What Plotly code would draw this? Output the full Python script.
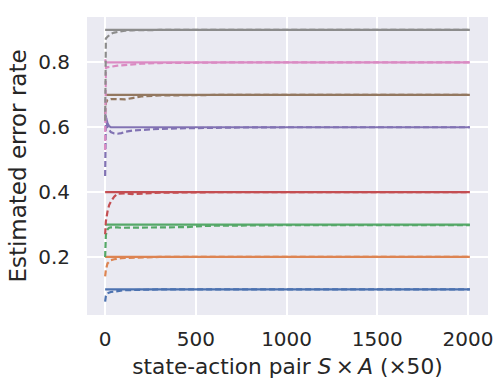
import plotly.graph_objects as go

# x positions (state-action pairs, x50)
x_pts = [0, 4, 13, 22, 31, 50, 68, 90, 110, 150, 200, 300, 450, 550, 700, 1000, 1500, 2010]

colors = ["#4C72B0", "#DD8452", "#55A868", "#C44E52", "#8172B3", "#937860", "#DA8BC3", "#8C8C8C"]

# solid-line values (fast converging estimate)
solid_blue   = [0.1] * 18
solid_orange = [0.2] * 18
solid_green  = [0.3] * 18
solid_red    = [0.4] * 18
solid_purple = [0.64, 0.63, 0.612, 0.603, 0.6, 0.6, 0.6, 0.6, 0.6, 0.6, 0.6, 0.6, 0.6, 0.6, 0.6, 0.6, 0.6, 0.6]
solid_brown  = [0.7] * 18
solid_pink   = [0.81, 0.8, 0.8, 0.8, 0.8, 0.8, 0.8, 0.8, 0.8, 0.8, 0.8, 0.8, 0.8, 0.8, 0.8, 0.8, 0.8, 0.8]
solid_gray   = [0.9] * 18

# dashed-line values (slower estimate)
dash_blue   = [0.062, 0.08, 0.088, 0.09, 0.092, 0.093, 0.095, 0.097, 0.098, 0.098, 0.099, 0.1, 0.1, 0.1, 0.1, 0.1, 0.1, 0.1]
dash_orange = [0.14, 0.16, 0.18, 0.186, 0.19, 0.193, 0.195, 0.196, 0.197, 0.198, 0.199, 0.2, 0.2, 0.2, 0.2, 0.2, 0.2, 0.2]
dash_green  = [0.2, 0.268, 0.285, 0.29, 0.291, 0.292, 0.291, 0.29, 0.29, 0.29, 0.29, 0.291, 0.292, 0.296, 0.297, 0.298, 0.298, 0.298]
dash_red    = [0.27, 0.31, 0.34, 0.36, 0.37, 0.386, 0.395, 0.396, 0.396, 0.394, 0.396, 0.398, 0.399, 0.4, 0.4, 0.4, 0.399, 0.4]
dash_purple = [0.45, 0.63, 0.6, 0.59, 0.585, 0.581, 0.58, 0.582, 0.586, 0.59, 0.592, 0.595, 0.597, 0.598, 0.599, 0.6, 0.6, 0.6]
dash_brown  = [0.64, 0.675, 0.684, 0.686, 0.687, 0.687, 0.686, 0.685, 0.686, 0.69, 0.695, 0.698, 0.699, 0.7, 0.7, 0.7, 0.7, 0.7]
dash_pink   = [0.53, 0.787, 0.785, 0.786, 0.787, 0.789, 0.79, 0.791, 0.792, 0.794, 0.796, 0.798, 0.799, 0.8, 0.8, 0.8, 0.8, 0.8]
dash_gray   = [0.62, 0.874, 0.879, 0.884, 0.888, 0.892, 0.894, 0.896, 0.898, 0.899, 0.9, 0.9, 0.9, 0.9, 0.9, 0.9, 0.9, 0.9]

solids = [solid_blue, solid_orange, solid_green, solid_red, solid_purple, solid_brown, solid_pink, solid_gray]
dashes = [dash_blue, dash_orange, dash_green, dash_red, dash_purple, dash_brown, dash_pink, dash_gray]

x_ticks = [0, 500, 1000, 1500, 2000]
y_ticks = [0.2, 0.4, 0.6, 0.8]

fig = go.Figure()
for ys, c in zip(solids, colors):
    fig.add_trace(go.Scatter(x=x_pts, y=ys, mode="lines",
                             line=dict(color=c, width=2.2), showlegend=False))
for ys, c in zip(dashes, colors):
    fig.add_trace(go.Scatter(x=x_pts, y=ys, mode="lines",
                             line=dict(color=c, width=2.2, dash="6px,3px"), showlegend=False))

font_color = "#262626"
fig.update_layout(
    width=504, height=392,
    margin=dict(l=87, r=16, t=17, b=77),
    paper_bgcolor="white",
    plot_bgcolor="#EAEAF2",
    font=dict(family="DejaVu Sans", size=20, color=font_color),
    xaxis=dict(range=[-100, 2110], tickvals=x_ticks, ticktext=[str(v) for v in x_ticks],
               showgrid=True, gridcolor="white", gridwidth=1.6, zeroline=False,
               showline=False, ticks="outside", ticklen=6, tickcolor="rgba(0,0,0,0)",
               automargin=False,
               title=dict(text="state-action pair <i>S</i>\u2009×\u2009<i>A</i> (×50)",
                          font=dict(size=21.7), standoff=8)),
    yaxis=dict(range=[0.021, 0.94], tickvals=y_ticks, ticktext=["0.2", "0.4", "0.6", "0.8"],
               showgrid=True, gridcolor="white", gridwidth=1.6, zeroline=False,
               showline=False, ticks="outside", ticklen=12, tickcolor="rgba(0,0,0,0)",
               automargin=False,
               title=dict(text="Estimated error rate", font=dict(size=23), standoff=5)),
)

fig.write_html("out.html", config={"displayModeBar": False},
               post_script="document.body.style.margin='0';")
